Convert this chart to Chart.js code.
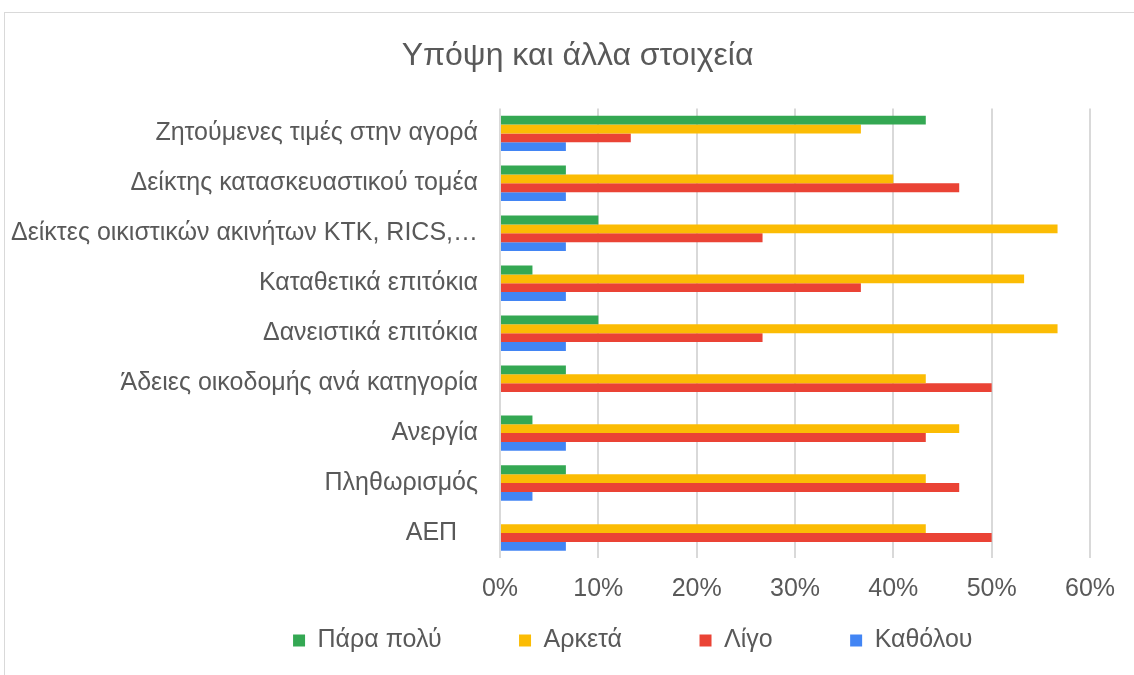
<!DOCTYPE html>
<html>
<head>
<meta charset="utf-8">
<script src="https://cdn.jsdelivr.net/npm/chart.js@4.4.1/dist/chart.umd.min.js"></script>
<style>
  html, body { margin: 0; padding: 0; background: #fff; overflow: hidden; }
  #wrap {
    position: absolute; left: 4px; top: 12px;
    width: 1134px; height: 670px;
    border-left: 1px solid #d9d9d9; border-top: 1px solid #d9d9d9;
  }
</style>
</head>
<body>
<div id="wrap"><canvas id="chart"></canvas></div>
<script>
const categories = [
  'Ζητούμενες τιμές στην αγορά',
  'Δείκτης κατασκευαστικού τομέα',
  'Δείκτες οικιστικών ακινήτων ΚΤΚ, RICS,…',
  'Καταθετικά επιτόκια',
  'Δανειστικά επιτόκια',
  'Άδειες οικοδομής ανά κατηγορία',
  'Ανεργία',
  'Πληθωρισμός',
  'ΑΕΠ   '
];
const paraPoly = [43.3, 6.7, 10, 3.3, 10, 6.7, 3.3, 6.7, 0];
const arketa   = [36.7, 40, 56.7, 53.3, 56.7, 43.3, 46.7, 43.3, 43.3];
const ligo     = [13.3, 46.7, 26.7, 36.7, 26.7, 50, 43.3, 46.7, 50];
const katholou = [6.7, 6.7, 6.7, 6.7, 6.7, 0, 6.7, 3.3, 6.7];
const xTicks = [0, 10, 20, 30, 40, 50, 60];

const textColor = '#595959';
const font = "'Liberation Sans', Arial, sans-serif";

// title and legend are not centred on the canvas in the original
const shiftBoxes = {
  id: 'shiftBoxes',
  afterLayout(chart) {
    if (chart.titleBlock) { chart.titleBlock.left += 30; chart.titleBlock.right += 30; }
    if (chart.legend) { chart.legend.left += 120; chart.legend.right += 120; }
  }
};

const ctx = document.getElementById('chart').getContext('2d');
new Chart(ctx, {
  type: 'bar',
  data: {
    labels: categories,
    datasets: [
      { label: 'Πάρα πολύ', data: paraPoly, backgroundColor: '#34A853' },
      { label: 'Αρκετά', data: arketa, backgroundColor: '#FBBC04' },
      { label: 'Λίγο', data: ligo, backgroundColor: '#EA4335' },
      { label: 'Καθόλου', data: katholou, backgroundColor: '#4285F4' }
    ]
  },
  options: {
    indexAxis: 'y',
    responsive: true,
    maintainAspectRatio: false,
    animation: false,
    datasets: {
      bar: { categoryPercentage: 0.71, barPercentage: 1.0 }
    },
    layout: { padding: { left: 0, right: 49, top: 0, bottom: 20 } },
    scales: {
      x: {
        min: 0,
        max: 60,
        afterBuildTicks: (scale) => { scale.ticks = xTicks.map(v => ({ value: v })); },
        ticks: {
          callback: (v) => v + '%',
          color: textColor,
          font: { family: font, size: 25 },
          padding: 16
        },
        grid: { color: '#d9d9d9', lineWidth: 2, drawTicks: false },
        border: { display: false }
      },
      y: {
        afterFit: (scale) => { scale.width = 495; },
        ticks: {
          color: textColor,
          font: { family: font, size: 25 },
          padding: 22
        },
        grid: { display: false, drawTicks: false },
        border: { display: false }
      }
    },
    plugins: {
      title: {
        display: true,
        text: 'Υπόψη και άλλα στοιχεία',
        color: textColor,
        font: { family: font, size: 32, weight: 'normal' },
        padding: { top: 24, bottom: 33 }
      },
      legend: {
        position: 'bottom',
        labels: {
          color: textColor,
          font: { family: font, size: 25 },
          boxWidth: 12,
          boxHeight: 12,
          padding: 8,
          generateLabels: (chart) =>
            Chart.defaults.plugins.legend.labels.generateLabels(chart)
              .map(item => ({ ...item, text: item.text + '\u00a0'.repeat(10) }))
        }
      },
      tooltip: { enabled: false }
    }
  },
  plugins: [shiftBoxes]
});
</script>
</body>
</html>
